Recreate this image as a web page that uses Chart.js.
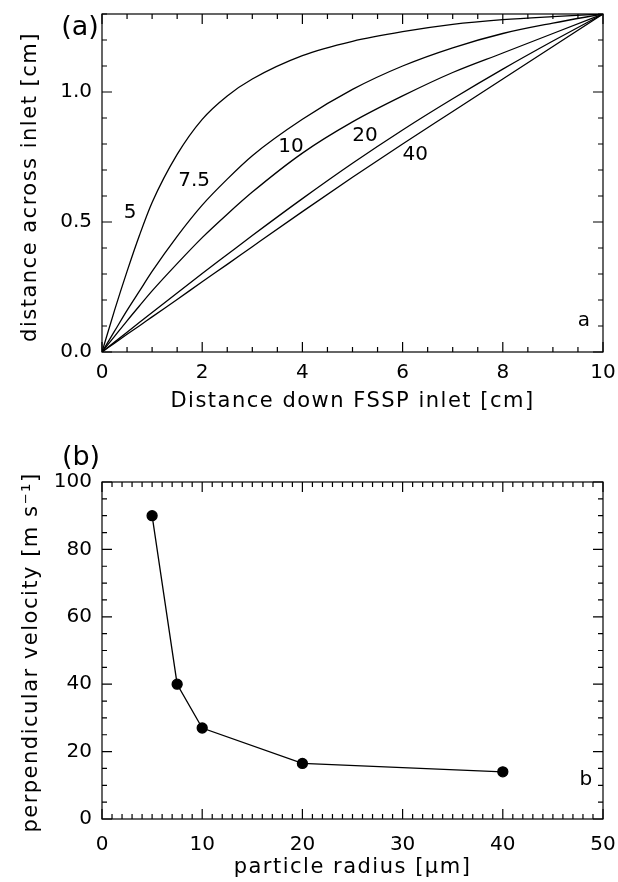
<!DOCTYPE html>
<html>
<head>
<meta charset="utf-8">
<script src="https://cdn.jsdelivr.net/npm/chart.js@4.4.1/dist/chart.umd.min.js"></script>
<style>
  body { margin: 0; background: #fff; width: 618px; height: 882px; position: relative; overflow: hidden; }
  #chartA { position: absolute; left: 0; top: 0; }
  #chartB { position: absolute; left: 0; top: 420px; }
</style>
</head>
<body>
<canvas id="chartA" width="618" height="420"></canvas>
<canvas id="chartB" width="618" height="462"></canvas>
<script>
// panel (a): trajectories across the inlet, one per particle radius (um)
const inletX = [0, 0.25, 0.5, 0.75, 1, 1.5, 2, 2.5, 3, 4, 5, 6, 7, 8, 9, 10];
const path5   = [0, 0.16, 0.31, 0.45, 0.575, 0.76, 0.895, 0.985, 1.05, 1.14, 1.195, 1.232, 1.26, 1.278, 1.29, 1.3];
const path7_5 = [0, 0.08, 0.16, 0.235, 0.31, 0.445, 0.565, 0.665, 0.755, 0.895, 1.01, 1.1, 1.17, 1.225, 1.265, 1.3];
const path10  = [0, 0.06, 0.12, 0.178, 0.235, 0.34, 0.44, 0.53, 0.615, 0.765, 0.885, 0.985, 1.075, 1.15, 1.225, 1.3];
const path20  = [0, 0.038, 0.076, 0.114, 0.152, 0.227, 0.302, 0.375, 0.448, 0.59, 0.726, 0.854, 0.974, 1.088, 1.196, 1.3];
const path40  = [0, 0.034, 0.068, 0.101, 0.135, 0.202, 0.27, 0.337, 0.405, 0.54, 0.672, 0.8, 0.925, 1.05, 1.175, 1.3];
const curveNames = ['5', '7.5', '10', '20', '40'];
const curveLabelX = [0.56, 1.84, 3.77, 5.25, 6.25];
const curveLabelY = [0.535, 0.66, 0.79, 0.83, 0.76];
const ticksAx = [0, 2, 4, 6, 8, 10];
const ticksAy = [0, 0.5, 1.0];

// panel (b): perpendicular velocity vs particle radius
const radius = [5, 7.5, 10, 20, 40];
const velocity = [90, 40, 27, 16.5, 14];
const ticksBx = [0, 10, 20, 30, 40, 50];
const ticksBy = [0, 20, 40, 60, 80, 100];

Chart.defaults.font.family = "'DejaVu Sans', sans-serif";
Chart.defaults.font.size = 20;
Chart.defaults.color = '#000';

function pairs(xs, ys) {
  return xs.map((v, i) => ({ x: v, y: ys[i] }));
}

// IDL style frame: box, inward ticks on all four sides, axis titles, notes
const frameTicks = {
  id: 'frameTicks',
  afterDatasetsDraw(chart, args, opts) {
    const { ctx, chartArea: a, scales: { x, y } } = chart;
    ctx.save();
    ctx.strokeStyle = '#000';
    ctx.lineWidth = 1.2;
    ctx.strokeRect(a.left, a.top, a.right - a.left, a.bottom - a.top);
    ctx.beginPath();
    let n = Math.round((x.max - x.min) / opts.xMinor);
    for (let i = 0; i <= n; i++) {
      const v = x.min + i * opts.xMinor;
      const len = i % opts.xEvery === 0 ? 10 : 5;
      const px = x.getPixelForValue(v);
      ctx.moveTo(px, a.bottom); ctx.lineTo(px, a.bottom - len);
      ctx.moveTo(px, a.top); ctx.lineTo(px, a.top + len);
    }
    n = Math.round((y.max - y.min) / opts.yMinor);
    for (let i = 0; i <= n; i++) {
      const v = y.min + i * opts.yMinor;
      const len = i % opts.yEvery === 0 ? 10 : 5;
      const py = y.getPixelForValue(v);
      ctx.moveTo(a.left, py); ctx.lineTo(a.left + len, py);
      ctx.moveTo(a.right, py); ctx.lineTo(a.right - len, py);
    }
    ctx.stroke();
    ctx.restore();
  },
  afterDraw(chart, args, opts) {
    const { ctx, chartArea: a, scales: { x, y } } = chart;
    ctx.save();
    ctx.fillStyle = '#000';
    ctx.textAlign = 'center';
    ctx.textBaseline = 'middle';
    ctx.font = "20px 'DejaVu Sans'";
    (opts.notes || []).forEach(n => {
      ctx.fillText(n.text, x.getPixelForValue(n.x), y.getPixelForValue(n.y));
    });
    ctx.font = "27px 'DejaVu Sans'";
    ctx.fillText(opts.panel, opts.panelAt[0], opts.panelAt[1]);

    // axis titles, spaced out like the original plot font
    ctx.font = "21px 'DejaVu Sans'";
    ctx.letterSpacing = '1.5px';
    ctx.fillText(opts.xTitle, (a.left + a.right) / 2, opts.xTitleY);
    ctx.translate(opts.yTitleX, (a.top + a.bottom) / 2 + opts.yTitleShift);
    ctx.rotate(-Math.PI / 2);
    ctx.fillText(opts.yTitle, 0, 0);
    ctx.restore();
  }
};

function axis(min, max, tickList, fmt, fixedSize, horizontal, tickPad) {
  return {
    type: 'linear',
    min: min,
    max: max,
    grid: { display: false, drawTicks: false },
    border: { display: false },
    afterBuildTicks: s => { s.ticks = tickList.map(v => ({ value: v })); },
    afterFit: s => {
      if (horizontal) { s.height = fixedSize; s.paddingLeft = 0; s.paddingRight = 0; }
      else { s.width = fixedSize; s.paddingTop = 0; s.paddingBottom = 0; }
    },
    ticks: { padding: tickPad, callback: v => fmt(v), maxRotation: 0, autoSkip: false }
  };
}

const lineStyle = { borderColor: '#000', borderWidth: 1.3, pointRadius: 0, fill: false,
  cubicInterpolationMode: 'monotone' };

const curves = [path5, path7_5, path10, path20, path40];
const notesA = curveNames.map((t, i) => ({ text: t, x: curveLabelX[i], y: curveLabelY[i] }));
notesA.push({ text: 'a', x: 9.62, y: 0.12 });

new Chart(document.getElementById('chartA'), {
  type: 'line',
  data: {
    datasets: curves.map((c, i) => Object.assign({ label: curveNames[i], data: pairs(inletX, c) }, lineStyle))
  },
  options: {
    responsive: false,
    animation: false,
    layout: { padding: { top: 14, right: 15, left: 0, bottom: 0 } },
    plugins: {
      legend: { display: false },
      tooltip: { enabled: false },
      frameTicks: { xMinor: 0.5, xEvery: 4, yMinor: 0.1, yEvery: 5, notes: notesA,
        panel: '(a)', panelAt: [80, 28],
        xTitle: 'Distance down FSSP inlet [cm]', xTitleY: 402,
        yTitle: 'distance across inlet [cm]', yTitleX: 31, yTitleShift: 4 }
    },
    scales: {
      x: axis(0, 10, ticksAx, v => String(v), 68, true, 9),
      y: axis(0, 1.3, ticksAy, v => v.toFixed(1), 102, false, 10)
    }
  },
  plugins: [frameTicks]
});

new Chart(document.getElementById('chartB'), {
  type: 'line',
  data: {
    datasets: [{
      label: 'velocity',
      data: pairs(radius, velocity),
      borderColor: '#000',
      borderWidth: 1.3,
      pointRadius: 5,
      pointBackgroundColor: '#000',
      pointBorderColor: '#000',
      fill: false,
      tension: 0
    }]
  },
  options: {
    responsive: false,
    animation: false,
    layout: { padding: { top: 62, right: 15, left: 0, bottom: 0 } },
    plugins: {
      legend: { display: false },
      tooltip: { enabled: false },
      frameTicks: { xMinor: 1, xEvery: 10, yMinor: 5, yEvery: 4,
        notes: [{ text: 'b', x: 48.3, y: 11.7 }], panel: '(b)', panelAt: [81, 38],
        xTitle: 'particle radius [\u03bcm]', xTitleY: 448,
        yTitle: 'perpendicular velocity [m s\u207b\u00b9]', yTitleX: 32, yTitleShift: 2 }
    },
    scales: {
      x: axis(0, 50, ticksBx, v => String(v), 63, true, 14),
      y: axis(0, 100, ticksBy, v => String(v), 102, false, 10)
    }
  },
  plugins: [frameTicks]
});
</script>
</body>
</html>
